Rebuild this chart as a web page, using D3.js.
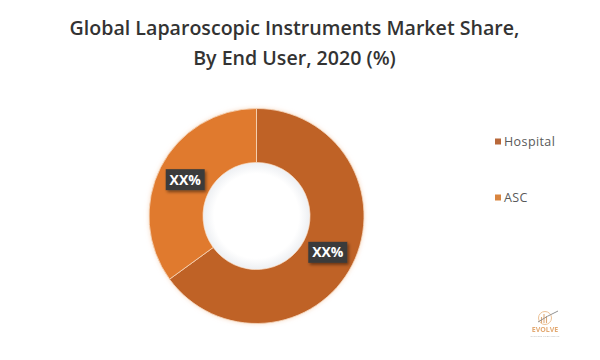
<!DOCTYPE html>
<html>
<head>
<meta charset="utf-8">
<script src="https://cdn.jsdelivr.net/npm/d3@7"></script>
<style>
  html, body { margin: 0; padding: 0; background: #ffffff; }
  svg { display: block; }
</style>
</head>
<body>
<svg id="chart" width="600" height="360"></svg>
<script>
// ---- data ----
const categories = ["Hospital", "ASC"];
const shares = [65, 35];
const labels = ["XX%", "XX%"];
const titleLines = ["Global Laparoscopic Instruments Market Share,", "By End User, 2020 (%)"];

const colors = ["#BF6228", "#E07A2E"];
const legendColors = ["#B8683A", "#D9853F"];

const svg = d3.select("#chart");

// defs
const defs = svg.append("defs");
const shadow = defs.append("filter").attr("id", "shadow").attr("x", "-30%").attr("y", "-30%").attr("width", "160%").attr("height", "170%");
shadow.append("feDropShadow").attr("dx", 1.5).attr("dy", 2).attr("stdDeviation", 1.5).attr("flood-color", "#000").attr("flood-opacity", 0.45);
const glow = defs.append("filter").attr("id", "glow").attr("x", "-20%").attr("y", "-20%").attr("width", "140%").attr("height", "140%");
glow.append("feGaussianBlur").attr("in", "SourceAlpha").attr("stdDeviation", 2).attr("result", "b");
glow.append("feFlood").attr("flood-color", "#f3c9a6").attr("flood-opacity", 0.6);
glow.append("feComposite").attr("in2", "b").attr("operator", "in").attr("result", "g");
const m = glow.append("feMerge");
m.append("feMergeNode").attr("in", "g");
m.append("feMergeNode").attr("in", "SourceGraphic");
const innerGrad = defs.append("radialGradient").attr("id", "hole");
innerGrad.append("stop").attr("offset", "0.8").attr("stop-color", "#ffffff");
innerGrad.append("stop").attr("offset", "1").attr("stop-color", "#eef0f3");

// title
svg.append("g").selectAll("text").data(titleLines).join("text")
  .attr("x", 294.5).attr("y", (d, i) => 35 + i * 30)
  .attr("text-anchor", "middle")
  .attr("font-family", "'Open Sans', sans-serif")
  .attr("font-weight", 600)
  .attr("font-size", 19.6)
  .attr("fill", "#333333")
  .text(d => d);

// donut
const cx = 256.5, cy = 216, rOuter = 107.5, rInner = 53.5;
const pie = d3.pie().sort(null).value(d => d)(shares);
const arc = d3.arc().innerRadius(rInner).outerRadius(rOuter);
const labelArc = d3.arc().innerRadius(80).outerRadius(80);

const g = svg.append("g").attr("transform", `translate(${cx},${cy})`);
g.append("g").attr("filter", "url(#glow)").selectAll("path").data(pie).join("path")
  .attr("d", arc)
  .attr("fill", (d, i) => colors[i])
  .attr("stroke", "#f6d9c0")
  .attr("stroke-width", 0.8);

g.append("circle").attr("r", rInner - 0.5).attr("fill", "url(#hole)");

// data labels
const lab = g.append("g").selectAll("g").data(pie).join("g")
  .attr("transform", d => `translate(${labelArc.centroid(d)})`);
lab.append("rect")
  .attr("x", -19.5).attr("y", -10.5).attr("width", 39).attr("height", 21)
  .attr("fill", "#3b3b3b")
  .attr("filter", "url(#shadow)");
lab.append("text")
  .attr("text-anchor", "middle").attr("dy", "0.36em")
  .attr("font-family", "'Open Sans', sans-serif")
  .attr("font-weight", 700).attr("font-size", 14)
  .attr("fill", "#ffffff")
  .text((d, i) => labels[i]);

// legend
const leg = svg.append("g").selectAll("g").data(categories).join("g")
  .attr("transform", (d, i) => `translate(495, ${142 + i * 56})`);
leg.append("rect").attr("x", 0).attr("y", -3.5).attr("width", 6).attr("height", 6)
  .attr("fill", (d, i) => legendColors[i]);
leg.append("text").attr("x", 9).attr("dy", "0.35em")
  .attr("font-family", "'Open Sans', sans-serif")
  .attr("font-size", 12.5).attr("letter-spacing", 0.4).attr("fill", "#595959")
  .text(d => d);

// logo
const logo = svg.append("g").attr("transform", "translate(545, 318)").attr("opacity", 0.8);
logo.append("circle").attr("r", 6.5).attr("fill", "none").attr("stroke", "#e6b07a").attr("stroke-width", 1);
logo.append("path").attr("d", "M-3.5,5 L-3.5,-1 M-1,5 L-1,-4 M1.5,5 L1.5,-2").attr("stroke", "#d8955a").attr("stroke-width", 1.1);
logo.append("path").attr("d", "M-7,4 Q2,-2 13,-7").attr("fill", "none").attr("stroke", "#777").attr("stroke-width", 1);
logo.append("text").attr("x", 0).attr("y", 14).attr("text-anchor", "middle")
  .attr("font-family", "'Open Sans', sans-serif").attr("font-weight", 700).attr("font-size", 7)
  .attr("fill", "#dc9450").text("EVOLVE");
logo.append("text").attr("x", 0).attr("y", 18.5).attr("text-anchor", "middle")
  .attr("font-family", "'Open Sans', sans-serif").attr("font-size", 2.5)
  .attr("fill", "#aaa").text("BUSINESS INTELLIGENCE");
</script>
</body>
</html>
